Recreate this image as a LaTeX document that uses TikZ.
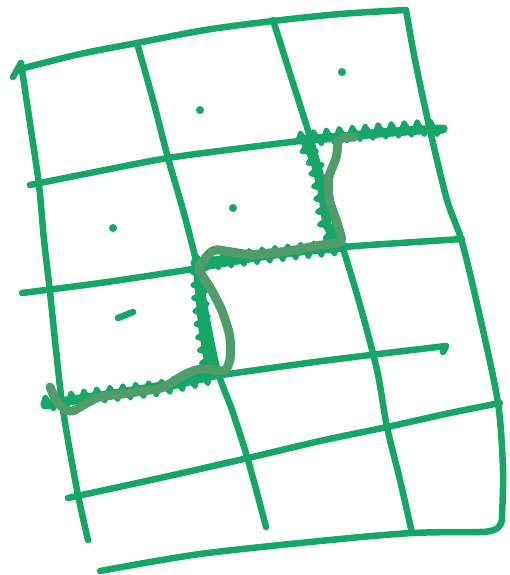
\documentclass[tikz,border=0pt]{standalone}
\usetikzlibrary{decorations.pathmorphing}
\definecolor{gridgreen}{RGB}{22,166,104}
\definecolor{routegreen}{RGB}{80,156,106}
\tikzset{
  gridline/.style={draw=gridgreen, line width=6.5pt, line cap=round, line join=round},
  band/.style={draw=gridgreen, line width=5pt, line cap=round, line join=round,
    decorate, decoration={zigzag, segment length=13pt, amplitude=6.5pt}},
  bandbase/.style={draw=gridgreen, line width=9pt, line cap=round, line join=round},
  route/.style={draw=routegreen, line width=9pt, line cap=round, line join=round, rounded corners=6pt},
  dotmark/.style={fill=gridgreen}
}
\begin{document}
\begin{tikzpicture}[x=1pt,y=-1pt]
\useasboundingbox (0,0) rectangle (510,575);
% top-left tick
\draw[gridline] (13,77) -- (21,63);
% top edge
\draw[gridline] plot[smooth] coordinates {(24,68) (80,54) (137,43) (205,30) (273,21) (340,14) (406,10)};
% right edge and bottom
\draw[gridline] plot[smooth] coordinates {(406,10) (415,60) (430,130) (447,200) (462,242) (480,317) (498,403) (503,470) (502,515)};
\draw[gridline] (502,515) .. controls (503,528) and (495,532) .. (480,532);
\draw[gridline] plot[smooth] coordinates {(480,532) (412,533) (330,540) (200,554) (100,571)};
% left edge
\draw[gridline] plot[smooth] coordinates {(21,63) (31,130) (39,185) (44,240) (50,292) (56,350) (63,410) (77,490) (88,540)};
% vertical 1
\draw[gridline] plot[smooth] coordinates {(137,43) (153,100) (168,158) (183,210) (197,265) (207,320) (218,372) (232,410) (248,460) (266,527)};
% vertical 2
\draw[gridline] plot[smooth] coordinates {(273,20) (292,80) (310,137) (325,190) (342,245) (360,305) (377,370) (387,427) (400,480) (412,533)};
% horizontal 1
\draw[gridline] plot[smooth] coordinates {(30,185) (100,171) (168,158) (235,149) (300,141) (370,134) (440,129)};
% horizontal 2
\draw[gridline] plot[smooth] coordinates {(22,293) (100,283) (193,269) (270,256) (345,247) (400,243) (462,239)};
% horizontal 3
\draw[gridline] plot[smooth] coordinates {(44,403) (130,390) (215,376) (330,360) (446,346)};
\draw[gridline] (446,346) -- (443,352);
% horizontal 4
\draw[gridline] plot[smooth] coordinates {(68,498) (160,478) (248,458) (320,441) (387,427) (450,413) (500,403)};
% dots
\fill[dotmark] (200,110) circle (4pt);
\fill[dotmark] (342,72) circle (4pt);
\fill[dotmark] (113,228) circle (4pt);
\fill[dotmark] (233,208) circle (4pt);
\draw[gridline] (118,318) -- (133,312);
% fuzzy bands
\draw[bandbase] (300,140) -- (340,137) -- (380,133) -- (420,130) -- (443,129);
\draw[band] (298,140) -- (340,135) -- (380,131) -- (420,128) -- (445,128);
\draw[bandbase] (305,141) -- (315,162) -- (322,190) -- (327,225) -- (338,245);
\draw[band] (303,140) -- (315,162) -- (321,190) -- (326,225) -- (336,246);
\draw[bandbase] (195,263) -- (250,257) -- (300,251) -- (345,247);
\draw[band] (195,264) -- (250,257) -- (300,251) -- (348,246);
\draw[bandbase] (197,263) -- (200,297) -- (203,330) -- (209,364) -- (218,370);
\draw[band] (198,262) -- (200,297) -- (203,330) -- (208,364) -- (218,372);
\draw[bandbase] (45,405) -- (100,396) -- (160,388) -- (215,375);
\draw[band] (43,404) -- (100,395) -- (160,388) -- (216,375);
% route
\draw[route] (354,137) -- (338,138) -- (337,156) -- (328,178) -- (329,200) -- (337,222) -- (343,243) -- (320,245) -- (290,251) -- (250,255) -- (213,249) -- (197,268) -- (210,287) -- (222,310) -- (230,335) -- (231,357) -- (226,372) -- (203,368) -- (187,373) -- (163,388) -- (130,393) -- (97,397) -- (70,413) -- (57,403) -- (50,387);
\end{tikzpicture}
\end{document}
